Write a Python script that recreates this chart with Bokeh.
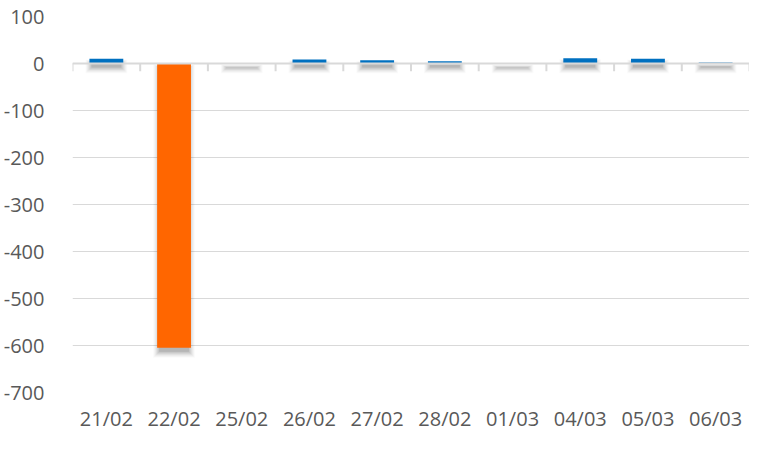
from bokeh.plotting import figure
from bokeh.models import FactorRange, Range1d, FixedTicker, Span
from bokeh.embed import file_html
from bokeh.resources import INLINE

# ---- data ----
dates = ["21/02", "22/02", "25/02", "26/02", "27/02", "28/02", "01/03", "04/03", "05/03", "06/03"]
values = [10, -605, 0, 8.5, 7, 5, 0, 11, 10, 2]
y_ticks = [100, 0, -100, -200, -300, -400, -500, -600, -700]

# ---- styles ----
POS = "#0070C0"
NEG = "#FF6600"
GRID = "#D9D9D9"
LABEL = "#595959"
FONT = "Open Sans"

TOP, BOTTOM, HEIGHT = 16, 34, 434
FRAME_H = HEIGHT - TOP - BOTTOM
p = figure(width=749, height=HEIGHT, output_backend="svg", toolbar_location=None,
           x_range=FactorRange(*dates, range_padding=0),
           y_range=Range1d(-700, 100),
           min_border_left=70, min_border_right=0, min_border_top=TOP, min_border_bottom=BOTTOM)
p.outline_line_color = None
p.background_fill_color = "white"
p.border_fill_color = "white"

# grid
p.xgrid.grid_line_color = None
p.ygrid.grid_line_color = GRID
p.ygrid.grid_line_width = 1
p.yaxis.ticker = FixedTicker(ticks=y_ticks)
p.yaxis.major_label_overrides = {t: str(t) for t in y_ticks}

# axes
for ax in (p.xaxis, p.yaxis):
    ax.axis_line_color = None
    ax.major_tick_line_color = None
    ax.minor_tick_line_color = None
    ax.major_label_text_font = FONT
    ax.major_label_text_font_size = "20px"
    ax.major_label_text_color = LABEL
p.yaxis.major_label_standoff = 22
p.xaxis.major_label_standoff = 6

n = len(dates)
xc = [i + 0.5 for i in range(n)]
half = 0.25
px = 800 / FRAME_H   # data units per pixel (vertical)
pxx = 1 / 68.0       # category units per pixel (horizontal)

# soft shadows (offset downward, blurred by layering)
layers = [(0, 0.08), (1, 0.06), (2, 0.05), (3, 0.045), (4, 0.035), (5, 0.03), (6, 0.02)]
for spread, a in layers:
    off = 4
    p.quad(left=[c - half - (spread - 2) * pxx for c in xc],
           right=[c + half + (spread - 2) * pxx for c in xc],
           top=[max(v, 0) - (off - spread * 0.5) * px for v in values],
           bottom=[min(v, 0) - (off + spread) * px for v in values],
           fill_color="#000000", fill_alpha=a, line_color=None)

# bars
colors = [POS if v >= 0 else NEG for v in values]
p.quad(left=[c - half for c in xc], right=[c + half for c in xc],
       top=[max(v, 0) for v in values], bottom=[min(v, 0) for v in values],
       fill_color=colors, line_color=None)

# zero axis line with boundary ticks
p.add_layout(Span(location=0, dimension="width", line_color=GRID, line_width=2))
bounds = list(range(n + 1))
p.segment(x0=bounds, x1=bounds, y0=[0] * len(bounds), y1=[-8 * px] * len(bounds),
          line_color=GRID, line_width=2)

open("out.html", "w").write(file_html(p, INLINE))
